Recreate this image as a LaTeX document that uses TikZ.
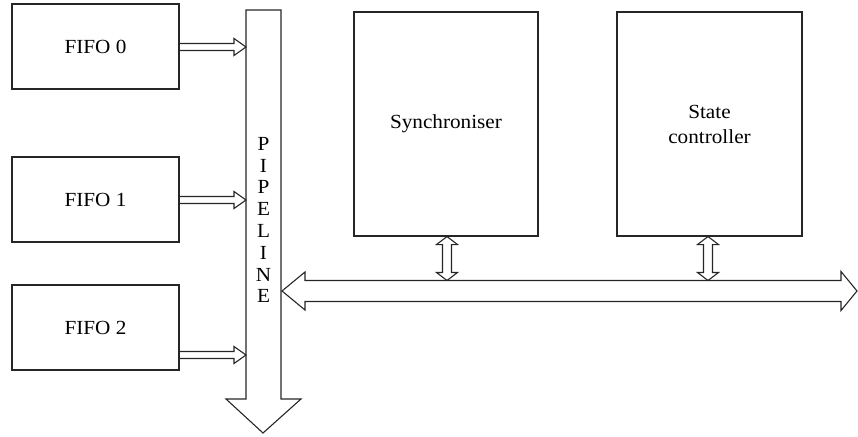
\documentclass[tikz,border=0pt]{standalone}
\usepackage{fontspec}
\setmainfont{Liberation Serif}[FakeStretch=1.06]
\usetikzlibrary{calc}
\tikzset{
  blk/.style={draw=black!85, line width=1.1pt, line join=miter},
  box/.style={blk, rectangle, inner sep=0pt, align=center,
    font=\fontsize{20}{25}\selectfont},
}
% right-pointing hollow arrow, open at start: #1 start, #2 tip
\newcommand\rarrow[2]{%
  \draw[blk] let \p1=(#1), \p2=(#2) in
    (\x1,\y2+3.5pt) -- (\x2-12pt,\y2+3.5pt) -- (\x2-12pt,\y2+8.5pt) -- (\x2,\y2)
    -- (\x2-12pt,\y2-8.5pt) -- (\x2-12pt,\y2-3.5pt) -- (\x1,\y2-3.5pt);}
% vertical double hollow arrow: #1 top tip, #2 bottom tip
\newcommand\vdarrow[2]{%
  \draw[blk] let \p1=(#1), \p2=(#2) in
    (\x1,\y1) -- (\x1+10.5pt,\y1-8pt) -- (\x1+4.5pt,\y1-8pt) -- (\x1+4.5pt,\y2+8pt)
    -- (\x1+10.5pt,\y2+8pt) -- (\x1,\y2) -- (\x1-10.5pt,\y2+8pt) -- (\x1-4.5pt,\y2+8pt)
    -- (\x1-4.5pt,\y1-8pt) -- (\x1-10.5pt,\y1-8pt) -- cycle;}
\begin{document}
\begin{tikzpicture}[x=1pt,y=-1pt]
\useasboundingbox (0,0) rectangle (858,436);
% FIFO boxes
\node[box, minimum width=167pt, minimum height=85pt] (f0) at (95.5,46.5) {FIFO 0};
\node[box, minimum width=167pt, minimum height=85pt] (f1) at (95.5,199.5) {FIFO 1};
\node[box, minimum width=167pt, minimum height=85pt] (f2) at (95.5,327.5) {FIFO 2};
% Pipeline
\coordinate (ptl) at (246,10);
\coordinate (ptr) at (281,10);
\coordinate (ptip) at (263,433);
\draw[blk] (ptl) -- (ptr) -- (281,399) -- (301,399) -- (ptip) -- (226,399) -- (246,399) -- cycle;
\node[inner sep=0pt, align=center, anchor=north, font=\fontsize{20}{21.8}\selectfont] (pipe) at (263.5,137) {P\\I\\P\\E\\L\\I\\N\\E};
% FIFO arrows
\coordinate (pl0) at (246,47);
\coordinate (pl1) at (246,200);
\coordinate (pl2) at (246,355);
\rarrow{f0.east}{pl0}
\rarrow{f1.east}{pl1}
\rarrow{$(f2.south east)+(0,-15)$}{pl2}
% Synchroniser and State controller
\node[box, minimum width=184pt, minimum height=224pt] (sync) at (446,124) {Synchroniser};
\node[box, minimum width=185pt, minimum height=224pt] (state) at (709.5,124) {State\\controller};
% Bus
\coordinate (busL) at (282,291);
\coordinate (busR) at (857,291);
\coordinate (bustop) at (0,280.5);
\draw[blk] (busL) -- ($(busL)+(23,-19)$) -- ($(busL)+(23,-10.5)$) -- ($(busR)+(-16,-10.5)$)
  -- ($(busR)+(-16,-19.5)$) -- (busR) -- ($(busR)+(-16,19.5)$) -- ($(busR)+(-16,10.5)$)
  -- ($(busL)+(23,10.5)$) -- ($(busL)+(23,19)$) -- cycle;
% Vertical links
\vdarrow{$(sync.south)+(1,0)$}{$(sync.south |- bustop)+(1,0)$}
\vdarrow{$(state.south)+(-1.5,0)$}{$(state.south |- bustop)+(-1.5,0)$}
\end{tikzpicture}
\end{document}
